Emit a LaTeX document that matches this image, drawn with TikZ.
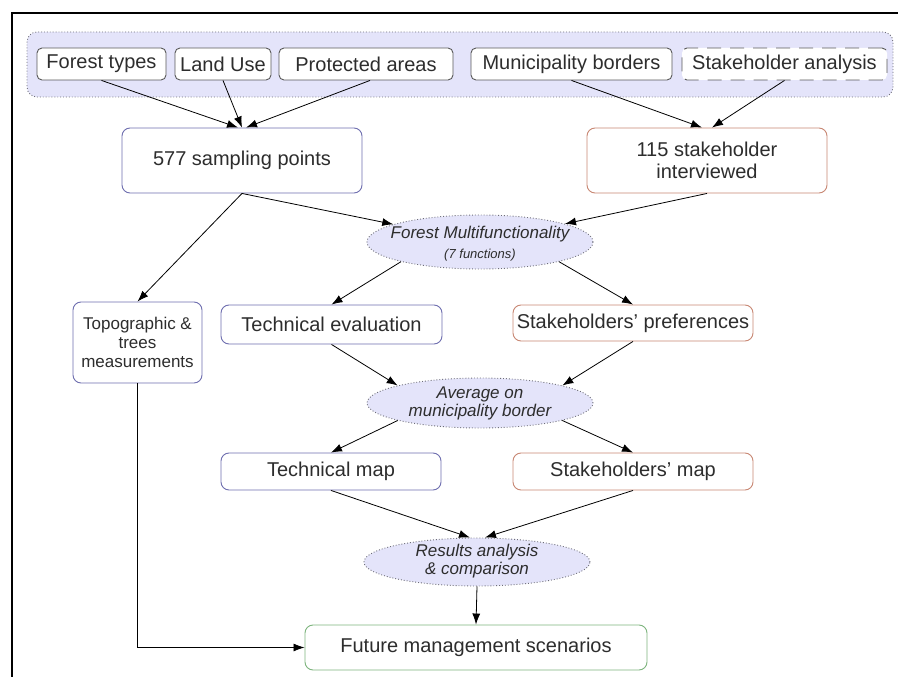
\documentclass[tikz,border=0pt]{standalone}
\usepackage{fontspec}
\setmainfont{Liberation Sans}
\usetikzlibrary{shapes.geometric,arrows.meta}
\definecolor{bluebd}{RGB}{110,110,175}
\definecolor{orbd}{RGB}{200,135,115}
\definecolor{grbd}{RGB}{125,180,125}
\definecolor{lav}{RGB}{228,228,250}
\definecolor{txt}{RGB}{45,45,45}
\definecolor{dotbd}{RGB}{110,110,120}
\begin{document}
\begin{tikzpicture}[x=1pt,y=-1pt,
  every node/.style={text=txt, inner sep=0pt, align=center},
  box/.style={draw, rounded corners=8pt, fill=white, line width=0.9pt, font=\fontsize{20}{22}\selectfont},
  bluebox/.style={box, draw=bluebd},
  orbox/.style={box, draw=orbd},
  grbox/.style={box, draw=grbd},
  topbox/.style={draw=black!65, rounded corners=5pt, fill=white, line width=0.9pt, minimum height=32pt, font=\fontsize{20}{22}\selectfont},
  ell/.style={ellipse, draw=dotbd, dotted, fill=lav, line width=0.9pt, minimum width=226pt},
  elltxt/.style={font=\fontsize{17}{18}\selectfont\itshape},
  arr/.style={-{Latex[length=11pt,width=8pt]}, line width=0.8pt},
]
\useasboundingbox (0,0) rectangle (898,677);
\draw[line width=1.5pt] (898,13) -- (12,13) -- (12,677);

% top group
\node[draw=dotbd, dotted, fill=lav, rounded corners=10pt, minimum width=866pt, minimum height=65pt, line width=0.9pt] (grp) at (460,64.5) {};
\node[topbox, minimum width=129pt] (ft) at (101.5,64) {Forest types};
\node[topbox, minimum width=96pt] (lu) at (223,64) {Land Use};
\node[topbox, minimum width=174pt] (pa) at (366,64) {Protected areas};
\node[topbox, minimum width=201pt] (mb) at (571.5,64) {Municipality borders};
\node[topbox, minimum width=205pt, dash pattern=on 14pt off 9pt] (sa) at (784.5,64) {Stakeholder analysis};

% second row
\node[bluebox, minimum width=240pt, minimum height=65pt] (sp) at (242,160.5) {577 sampling points};
\node[orbox, minimum width=240pt, minimum height=65pt] (ib) at (707,160.5) {115 stakeholder\\interviewed};

% forest multifunctionality
\node[ell, minimum height=54pt] (fm) at (480,242) {};
\node[elltxt] (fmt) at (480,244) {Forest Multifunctionality\\[2pt]{\fontsize{13}{15}\selectfont (7 functions)}};

% third row
\node[bluebox, minimum width=129pt, minimum height=81pt, font=\fontsize{17}{19}\selectfont] (tm) at (137.5,342.5) {Topographic \&\\trees\\measurements};
\node[bluebox, minimum width=221pt, minimum height=39pt] (te) at (331.5,324.5) {Technical evaluation};
\node[orbox, minimum width=240pt, minimum height=36pt] (sp2) at (633,323) {Stakeholders’ preferences};

% average
\node[ell, minimum height=50pt] (av) at (480,403) {};
\node[elltxt] (avt) at (480,403) {Average on\\municipality border};

% maps
\node[bluebox, minimum width=220pt, minimum height=37pt] (tmap) at (331,471.5) {Technical map};
\node[orbox, minimum width=240pt, minimum height=37pt] (smap) at (633,471.5) {Stakeholders’ map};

% results
\node[ell, minimum height=48pt] (rs) at (477,562) {};
\node[elltxt] (rst) at (477,561) {Results analysis\\\& comparison};

% future
\node[grbox, minimum width=342pt, minimum height=45pt] (fut) at (476,647.5) {Future management scenarios};

% connectors
\draw[arr] (ft.south) -- ([xshift=-4pt]sp.north);
\draw[arr] (lu.south) -- (sp.north);
\draw[arr] ([xshift=4pt]pa.south) -- ([xshift=4pt]sp.north);
\draw[arr] (mb.south) -- ([xshift=-5pt]ib.north);
\draw[arr] (sa.south) -- ([xshift=5pt]ib.north);
\draw[arr] (sp.south) -- (fm);
\draw[arr] (ib.south) -- (fm);
\draw[arr] (sp.south) -- (tm.north);
\draw[arr] (fm.194) -- (te.north);
\draw[arr] (fm.346) -- (sp2.north);
\draw[arr] (te.south) -- (av.168);
\draw[arr] (sp2.south) -- (av.12);
\draw[arr] (av.192) -- (tmap.north);
\draw[arr] (av.348) -- (smap.north);
\draw[arr] (tmap.south) -- ([xshift=-7pt]rs.north);
\draw[arr] (smap.south) -- ([xshift=8pt]rs.north);
\draw[arr] (rs.south) -- (fut.north);
\draw[arr] (tm.south) |- (fut.west);
\end{tikzpicture}
\end{document}
